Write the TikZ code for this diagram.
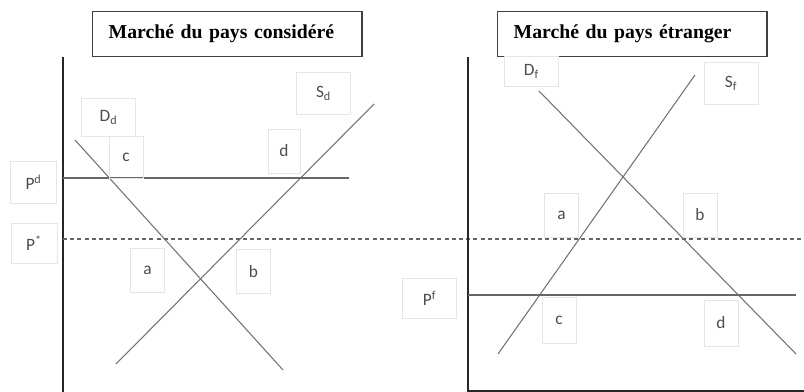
\documentclass[tikz,border=0pt]{standalone}
\usepackage{fontspec}
\setmainfont{Carlito}
\newfontfamily\titlefont{Liberation Serif}
\usetikzlibrary{positioning}
\tikzset{
  axisln/.style={line width=1.5pt,black!85},
  curve/.style={line width=0.8pt,black!55},
  pline/.style={line width=1.1pt,black!60},
  starln/.style={line width=0.9pt,black!60,dash pattern=on 3pt off 2.4pt},
  titlebox/.style={draw=black!75,line width=1pt,anchor=north west,align=left,
    text width=178pt,inner xsep=12pt,minimum height=33.5pt,
    font=\titlefont\bfseries\fontsize{14.8}{16}\selectfont},
  lbl/.style={draw=black!10,line width=0.6pt,inner sep=0pt,text=black!70,
    font=\fontsize{13}{15}\selectfont},
}
\begin{document}
\begin{tikzpicture}[x=0.75pt,y=-0.75pt]
  \useasboundingbox (0,0) rectangle (804,392);
  % titles
  \node[titlebox] (titleL) at (92,11) {Marché du pays considéré};
  \node[titlebox] (titleR) at (497,11) {Marché du pays étranger};
  % left market: axis, curves, prices
  \coordinate (oL) at (63,57);  \coordinate (bL) at (63,392);
  \draw[axisln] (oL) -- (bL);
  \coordinate (dd1) at (75,140);  \coordinate (dd2) at (283,370);
  \coordinate (sd1) at (374,104); \coordinate (sd2) at (116,364);
  \draw[curve] (dd1) -- (dd2);
  \draw[curve] (sd1) -- (sd2);
  \coordinate (pd1) at (63,178);  \coordinate (pd2) at (349,178);
  \draw[pline] (pd1) -- (pd2);
  % world price across both markets
  \coordinate (ps1) at (63,239);  \coordinate (ps2) at (804,239);
  \draw[starln] (ps1) -- (ps2);
  % right market
  \coordinate (oR) at (468,57);  \coordinate (bR) at (468,391);
  \coordinate (eR) at (804,391);
  \draw[axisln] (oR) -- (bR) -- (eR);
  \coordinate (df1) at (539,91);  \coordinate (df2) at (796,354);
  \coordinate (sf1) at (695,75);  \coordinate (sf2) at (498,354);
  \draw[curve] (df1) -- (df2);
  \draw[curve] (sf1) -- (sf2);
  \coordinate (pf1) at (468,295); \coordinate (pf2) at (796,295);
  \draw[pline] (pf1) -- (pf2);
  % label boxes, left
  \node[lbl,minimum width=35pt,minimum height=31pt] (Pd) at (33.5,182.5) {P\textsuperscript{d}};
  \node[lbl,minimum width=34.5pt,minimum height=30pt] (Pstar) at (34,243) {P\textsuperscript{*}};
  \node[lbl,minimum width=40pt,minimum height=29pt] (Dd) at (108.5,117.5) {D\textsubscript{d}};
  \node[lbl,minimum width=25.5pt,minimum height=31pt] (cL) at (126,157.5) {c};
  \node[lbl,minimum width=40pt,minimum height=31pt] (Sd) at (323.5,93.5) {S\textsubscript{d}};
  \node[lbl,minimum width=24pt,minimum height=33pt] (dL) at (284,151) {d};
  \node[lbl,minimum width=26pt,minimum height=33pt] (aL) at (147.5,270) {a};
  \node[lbl,minimum width=26pt,minimum height=33.5pt] (bL) at (253.5,271.5) {b};
  % label boxes, right
  \node[lbl,minimum width=41pt,minimum height=22pt] (Df) at (531.5,71.5) {D\textsubscript{f}};
  \node[lbl,minimum width=40.5pt,minimum height=31pt] (Sf) at (731,83.5) {S\textsubscript{f}};
  \node[lbl,minimum width=25pt,minimum height=33pt] (aR) at (561.5,215) {a};
  \node[lbl,minimum width=25.5pt,minimum height=33pt] (bR) at (700,215) {b};
  \node[lbl,minimum width=41pt,minimum height=30pt] (Pf) at (429.5,298) {P\textsuperscript{f}};
  \node[lbl,minimum width=25.5pt,minimum height=34pt] (cR) at (559,320.5) {c};
  \node[lbl,minimum width=25.5pt,minimum height=34.5pt] (dR) at (721,323) {d};
\end{tikzpicture}
\end{document}
